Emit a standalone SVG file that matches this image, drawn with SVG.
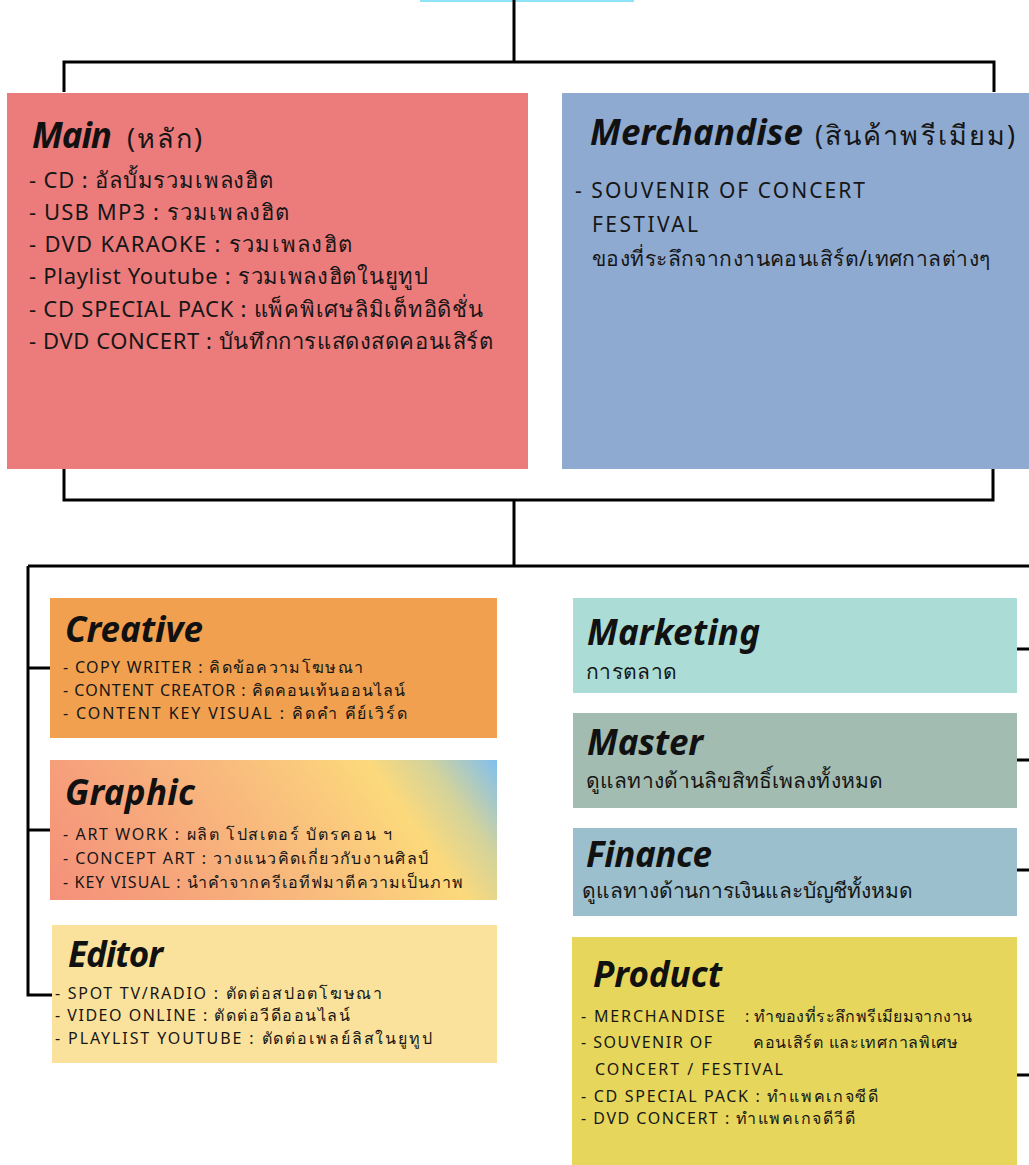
<svg xmlns="http://www.w3.org/2000/svg" width="1029" height="1165" viewBox="0 0 1029 1165">
<style>
.t{font-family:"Noto Sans","Open Sans",sans-serif;font-weight:bold;font-style:italic;font-size:35px;fill:#111}
.b{font-family:"Noto Sans","Open Sans",sans-serif;fill:#161616}
.p{font-size:27px}
.l{font-size:22px}
.s{font-size:16px}
.m{font-size:21px}
.c{fill:none;stroke:#000;stroke-width:3}
</style>
<defs>
<linearGradient id="gg" gradientUnits="userSpaceOnUse" x1="50" y1="900" x2="412" y2="641">
<stop offset="0" stop-color="#f4907a"/>
<stop offset="0.2" stop-color="#f6a07b"/>
<stop offset="0.55" stop-color="#f9c17d"/>
<stop offset="0.76" stop-color="#fcd97b"/>
<stop offset="0.87" stop-color="#d3d39b"/>
<stop offset="1" stop-color="#80bfee"/>
</linearGradient>
</defs>
<rect x="420" y="0" width="214" height="2" fill="#8fe3f7"/>
<g id="connectors" class="c">
<path d="M514 0V62M64 92V62H994V92"/>
<path d="M64 469V500H993V469M514 500V566M28 566H1029M28 566V995H52M28 668H52M28 830H52"/>
<path d="M1017 649H1029M1017 760H1029M1017 870H1029M1017 1075H1029"/>
</g>
<g id="main">
<rect x="7" y="93" width="521" height="376" fill="#ec7b7c"/>
<text x="32" y="148" class="t" textLength="80">Main</text>
<text x="127" y="148" class="b p" textLength="75">(หลัก)</text>
<g class="b l">
<text x="29" y="188" textLength="244">- CD : อัลบั้มรวมเพลงฮิต</text>
<text x="29" y="220" textLength="260">- USB MP3 : รวมเพลงฮิต</text>
<text x="29" y="252" textLength="323">- DVD KARAOKE : รวมเพลงฮิต</text>
<text x="29" y="284" textLength="399">- Playlist Youtube : รวมเพลงฮิตในยูทูป</text>
<text x="29" y="317" textLength="454">- CD SPECIAL PACK : แพ็คพิเศษลิมิเต็ทอิดิชั่น</text>
<text x="29" y="349" textLength="464">- DVD CONCERT : บันทึกการแสดงสดคอนเสิร์ต</text>
</g>
</g>
<g id="merchandise">
<rect x="562" y="93" width="467" height="376" fill="#8faad0"/>
<text x="590" y="145" class="t" textLength="213">Merchandise</text>
<text x="815" y="145" class="b p" textLength="200">(สินค้าพรีเมียม)</text>
<g class="b" style="font-size:21px">
<text x="575" y="198" textLength="290">- SOUVENIR OF CONCERT</text>
<text x="592" y="232" textLength="106">FESTIVAL</text>
<text x="592" y="266" textLength="398">ของที่ระลึกจากงานคอนเสิร์ต/เทศกาลต่างๆ</text>
</g>
</g>
<g id="creative">
<rect x="50" y="598" width="447" height="140" fill="#f0a04f"/>
<text x="65" y="642" class="t" textLength="138">Creative</text>
<g class="b s">
<text x="63" y="673" textLength="300">- COPY WRITER : คิดข้อความโฆษณา</text>
<text x="63" y="696" textLength="342">- CONTENT CREATOR : คิดคอนเท้นออนไลน์</text>
<text x="63" y="719" textLength="344">- CONTENT KEY VISUAL : คิดคำ คีย์เวิร์ด</text>
</g>
</g>
<g id="graphic">
<rect x="50" y="760" width="447" height="140" fill="url(#gg)"/>
<text x="65" y="805" class="t" textLength="130">Graphic</text>
<g class="b s">
<text x="63" y="840" textLength="329">- ART WORK : ผลิต โปสเตอร์ บัตรคอน ฯ</text>
<text x="63" y="864" textLength="365">- CONCEPT ART : วางแนวคิดเกี่ยวกับงานศิลป์</text>
<text x="63" y="888" textLength="400">- KEY VISUAL : นำคำจากครีเอทีฟมาตีความเป็นภาพ</text>
</g>
</g>
<g id="editor">
<rect x="52" y="925" width="445" height="138" fill="#fbe29c"/>
<text x="68" y="967" class="t" textLength="95">Editor</text>
<g class="b s">
<text x="55" y="999" textLength="327">- SPOT TV/RADIO : ตัดต่อสปอตโฆษณา</text>
<text x="55" y="1021" textLength="295">- VIDEO ONLINE : ตัดต่อวีดีออนไลน์</text>
<text x="55" y="1044" textLength="377">- PLAYLIST YOUTUBE : ตัดต่อเพลย์ลิสในยูทูป</text>
</g>
</g>
<g id="marketing">
<rect x="573" y="598" width="444" height="95" fill="#acdcd6"/>
<text x="587" y="645" class="t" textLength="173">Marketing</text>
<text x="586" y="679" class="b m" textLength="91">การตลาด</text>
</g>
<g id="master">
<rect x="573" y="713" width="444" height="95" fill="#a2bcb2"/>
<text x="587" y="755" class="t" textLength="116">Master</text>
<text x="586" y="788" class="b m" textLength="297">ดูแลทางด้านลิขสิทธิ์เพลงทั้งหมด</text>
</g>
<g id="finance">
<rect x="573" y="828" width="444" height="88" fill="#9bbfcc"/>
<text x="586" y="867" class="t" textLength="126">Finance</text>
<text x="582" y="898" class="b m" textLength="331">ดูแลทางด้านการเงินและบัญชีทั้งหมด</text>
</g>
<g id="product">
<rect x="572" y="937" width="445" height="228" fill="#e6d65b"/>
<text x="593" y="987" class="t" textLength="129">Product</text>
<g class="b s">
<text x="581" y="1022" textLength="144">- MERCHANDISE</text>
<text x="745" y="1022" textLength="227">: ทำของที่ระลึกพรีเมียมจากงาน</text>
<text x="581" y="1048" textLength="131">- SOUVENIR OF</text>
<text x="753" y="1048" textLength="205">คอนเสิร์ต และเทศกาลพิเศษ</text>
<text x="595" y="1075" textLength="188">CONCERT / FESTIVAL</text>
<text x="581" y="1102" textLength="297">- CD SPECIAL PACK : ทำแพคเกจซีดี</text>
<text x="581" y="1124" textLength="274">- DVD CONCERT : ทำแพคเกจดีวีดี</text>
</g>
</g>
</svg>
